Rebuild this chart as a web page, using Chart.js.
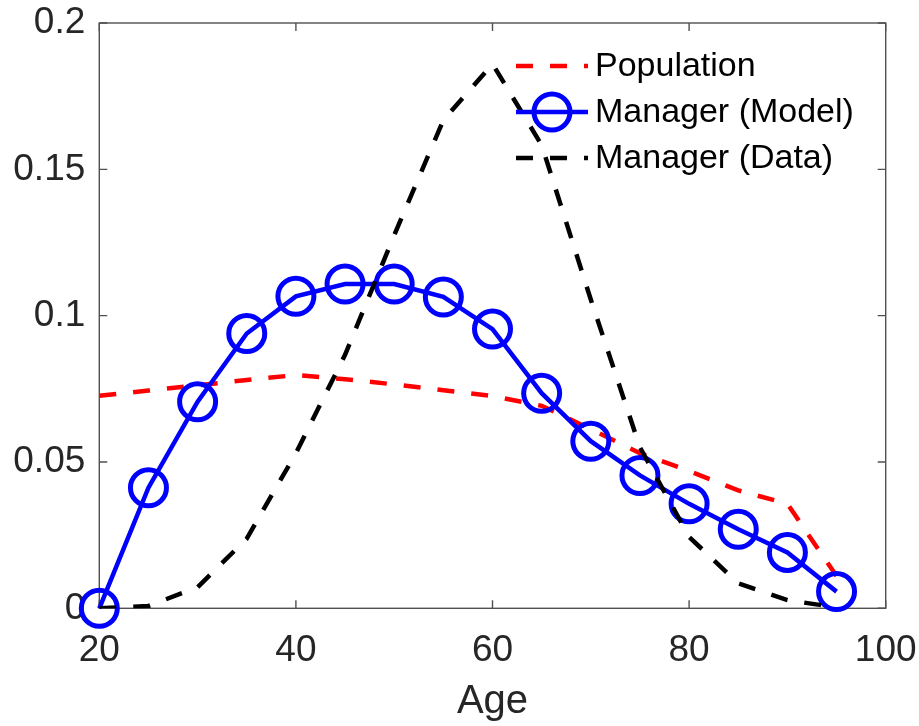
<!DOCTYPE html>
<html>
<head>
<meta charset="utf-8">
<script src="https://cdn.jsdelivr.net/npm/chart.js@4.4.1/dist/chart.umd.min.js"></script>
<style>
  html, body { margin: 0; padding: 0; background: #ffffff; }
  #ageChart { display: block; }
</style>
</head>
<body>
<canvas id="ageChart" width="919" height="726"></canvas>
<script>
// Age distribution: population vs. managers (model and data)
const ages = [20, 25, 30, 35, 40, 45, 50, 55, 60, 65, 70, 75, 80, 85, 90, 95];
const population = [0.0726, 0.0744, 0.0762, 0.0780, 0.0797, 0.0783, 0.0765, 0.0745,
  0.0725, 0.0692, 0.0612, 0.0530, 0.0469, 0.0403, 0.0357, 0.0110];
const managerModel = [0, 0.0412, 0.0706, 0.0939, 0.1066, 0.1108, 0.1108, 0.1064,
  0.0954, 0.0735, 0.0571, 0.0454, 0.0357, 0.0270, 0.0191, 0.0057];
const managerData = [0, 0.0008, 0.0072, 0.0238, 0.0530, 0.0866, 0.1275, 0.1668,
  0.1860, 0.1583, 0.1055, 0.0550, 0.0244, 0.0085, 0.0028, 0.0003];

const xTicks = [20, 40, 60, 80, 100];
const yTicks = [0, 0.05, 0.1, 0.15, 0.2];
const seriesLabels = ["Population", "Manager (Model)", "Manager (Data)"];

const FONT = "'Liberation Sans', Arial, Helvetica, sans-serif";
const TEXT = "#262626";
const AXIS = "#505050";

function points(values) {
  return ages.map(function (a, i) {
    return { x: a, y: values[i] };
  });
}

// axes box with inward tick marks on all four sides
const boxPlugin = {
  id: "boxPlugin",
  beforeDatasetsDraw: function (chart) {
    const ctx = chart.ctx;
    const a = chart.chartArea;
    const xs = chart.scales.x;
    const ys = chart.scales.y;
    const len = 8;
    ctx.save();
    ctx.strokeStyle = AXIS;
    ctx.lineWidth = 1.4;
    ctx.strokeRect(a.left, a.top, a.right - a.left, a.bottom - a.top);
    ctx.beginPath();
    xTicks.forEach(function (t) {
      const px = xs.getPixelForValue(t);
      ctx.moveTo(px, a.bottom);
      ctx.lineTo(px, a.bottom - len);
      ctx.moveTo(px, a.top);
      ctx.lineTo(px, a.top + len);
    });
    yTicks.forEach(function (t) {
      const py = ys.getPixelForValue(t);
      ctx.moveTo(a.left, py);
      ctx.lineTo(a.left + len, py);
      ctx.moveTo(a.right, py);
      ctx.lineTo(a.right - len, py);
    });
    ctx.stroke();
    ctx.restore();
  },
};

// legend drawn inside the axes, top right, without a frame
const legendPlugin = {
  id: "legendPlugin",
  afterDatasetsDraw: function (chart) {
    const ctx = chart.ctx;
    const x0 = 516;
    const x1 = 588;
    const rows = [66, 112, 158];
    ctx.save();
    chart.data.datasets.forEach(function (ds, i) {
      const y = rows[i];
      ctx.strokeStyle = ds.borderColor;
      ctx.lineWidth = ds.borderWidth;
      ctx.setLineDash(ds.borderDash || []);
      ctx.beginPath();
      ctx.moveTo(x0, y);
      ctx.lineTo(x1, y);
      ctx.stroke();
      ctx.setLineDash([]);
      if (ds.pointRadius > 0) {
        ctx.lineWidth = ds.pointBorderWidth;
        ctx.beginPath();
        ctx.arc((x0 + x1) / 2, y, ds.pointRadius, 0, Math.PI * 2);
        ctx.stroke();
      }
      ctx.fillStyle = "#000000";
      ctx.font = "34px " + FONT;
      ctx.textAlign = "left";
      ctx.textBaseline = "middle";
      ctx.fillText(ds.label, 595, y + 1);
    });
    ctx.restore();
  },
};

const ctx = document.getElementById("ageChart").getContext("2d");

new Chart(ctx, {
  type: "line",
  data: {
    datasets: [
      {
        label: seriesLabels[0],
        data: points(population),
        borderColor: "#ff0000",
        borderWidth: 4.5,
        borderDash: [17, 17],
        pointRadius: 0,
        tension: 0,
        fill: false,
        order: 3,
      },
      {
        label: seriesLabels[1],
        data: points(managerModel),
        borderColor: "#0000ff",
        borderWidth: 4.5,
        pointRadius: 18,
        pointBorderWidth: 5,
        pointBorderColor: "#0000ff",
        pointBackgroundColor: "rgba(0,0,0,0)",
        tension: 0,
        fill: false,
        clip: false,
        order: 2,
      },
      {
        label: seriesLabels[2],
        data: points(managerData),
        borderColor: "#000000",
        borderWidth: 4.5,
        borderDash: [17, 17],
        pointRadius: 0,
        tension: 0,
        fill: false,
        order: 1,
      },
    ],
  },
  options: {
    responsive: false,
    animation: false,
    devicePixelRatio: 1,
    layout: {
      padding: { left: 0, right: 33.3, top: 20.7, bottom: 0 },
    },
    plugins: {
      legend: { display: false },
      tooltip: { enabled: false },
    },
    scales: {
      x: {
        type: "linear",
        min: 20,
        max: 100,
        grid: { display: false },
        border: { display: false },
        afterBuildTicks: function (scale) {
          scale.ticks = xTicks.map(function (v) {
            return { value: v };
          });
        },
        afterFit: function (scale) {
          scale.height = 117.7;
          scale.paddingLeft = 0;
          scale.paddingRight = 0;
        },
        ticks: {
          color: TEXT,
          font: { family: FONT, size: 37 },
          padding: 12,
          maxRotation: 0,
          autoSkip: false,
        },
        title: {
          display: true,
          text: "Age",
          color: TEXT,
          font: { family: FONT, size: 40 },
          padding: { top: 0, bottom: 0 },
        },
      },
      y: {
        type: "linear",
        min: 0,
        max: 0.2,
        grid: { display: false },
        border: { display: false },
        afterBuildTicks: function (scale) {
          scale.ticks = yTicks.map(function (v) {
            return { value: v };
          });
        },
        afterFit: function (scale) {
          scale.width = 99.3;
          scale.paddingTop = 0;
          scale.paddingBottom = 0;
        },
        ticks: {
          color: TEXT,
          font: { family: FONT, size: 37 },
          padding: 6,
          autoSkip: false,
          callback: function (value) {
            return String(Math.round(value * 100) / 100);
          },
        },
      },
    },
  },
  plugins: [boxPlugin, legendPlugin],
});
</script>
</body>
</html>
